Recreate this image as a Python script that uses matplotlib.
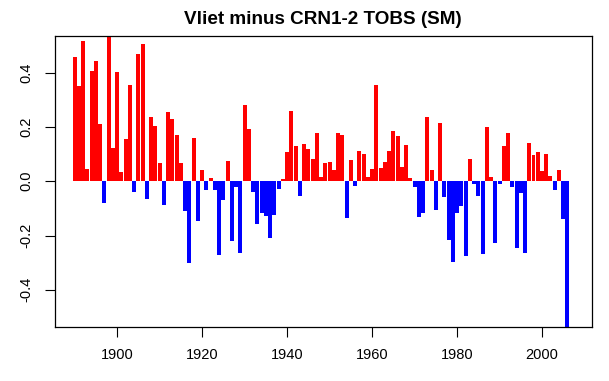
import matplotlib
matplotlib.use("Agg")
import matplotlib.pyplot as plt

plt.rcParams['font.family'] = ['Liberation Sans', 'DejaVu Sans']

# yearly differences, Vliet minus CRN1-2 (deg)
years = list(range(1890, 2007))
diffs = [
    0.459, 0.351, 0.517, 0.045, 0.406, 0.443, 0.210, -0.079, 0.550, 0.123,   # 1890-1899
    0.403, 0.034, 0.156, 0.355, -0.038, 0.470, 0.506, -0.064, 0.237, 0.204,  # 1900-1909
    0.068, -0.086, 0.255, 0.229, 0.170, 0.067, -0.108, -0.300, 0.159, -0.145,  # 1910-1919
    0.041, -0.031, 0.012, -0.031, -0.270, -0.071, 0.075, -0.222, -0.023, -0.263,  # 1920-1929
    0.281, 0.193, -0.038, -0.156, -0.116, -0.127, -0.208, -0.123, -0.027, 0.008,  # 1930-1939
    0.108, 0.259, 0.130, -0.053, 0.137, 0.119, 0.082, 0.178, 0.016, 0.067,   # 1940-1949
    0.071, 0.041, 0.178, 0.170, -0.134, 0.078, -0.016, 0.111, 0.100, 0.016,  # 1950-1959
    0.045, 0.355, 0.049, 0.071, 0.111, 0.185, 0.167, 0.053, 0.134, 0.012,    # 1960-1969
    -0.020, -0.130, -0.116, 0.237, 0.041, -0.105, 0.215, -0.057, -0.215, -0.296,  # 1970-1979
    -0.116, -0.090, -0.274, 0.082, -0.012, -0.053, -0.267, 0.200, 0.016, -0.226,  # 1980-1989
    -0.009, 0.130, 0.178, -0.020, -0.245, -0.042, -0.263, 0.141, 0.097, 0.108,   # 1990-1999
    0.038, 0.100, 0.019, -0.031, 0.041, -0.141, -0.560,                      # 2000-2006
]

colors = ['red' if d >= 0 else 'blue' for d in diffs]

fig = plt.figure(figsize=(6.09, 3.81), dpi=100)
ax = fig.add_axes([0.0898, 0.1425, 0.8818, 0.763])

ax.bar(years, diffs, width=0.94, color=colors, linewidth=0)

ax.set_xlim(1885.3, 2011.7)
ax.set_ylim(-0.536, 0.535)
ax.set_xticks([1900, 1920, 1940, 1960, 1980, 2000])
ax.set_yticks([-0.4, -0.2, 0.0, 0.2, 0.4])
ax.set_yticklabels(['-0.4', '-0.2', '0.0', '0.2', '0.4'], rotation=90, va='center')
ax.tick_params(length=7, width=0.8, labelsize=10.5, pad=8)

for s in ax.spines.values():
    s.set_linewidth(0.9)

ax.set_title('Vliet minus CRN1-2 TOBS (SM)', fontsize=13.6, fontweight='bold', pad=9)

fig.savefig('out.png', dpi=100)
